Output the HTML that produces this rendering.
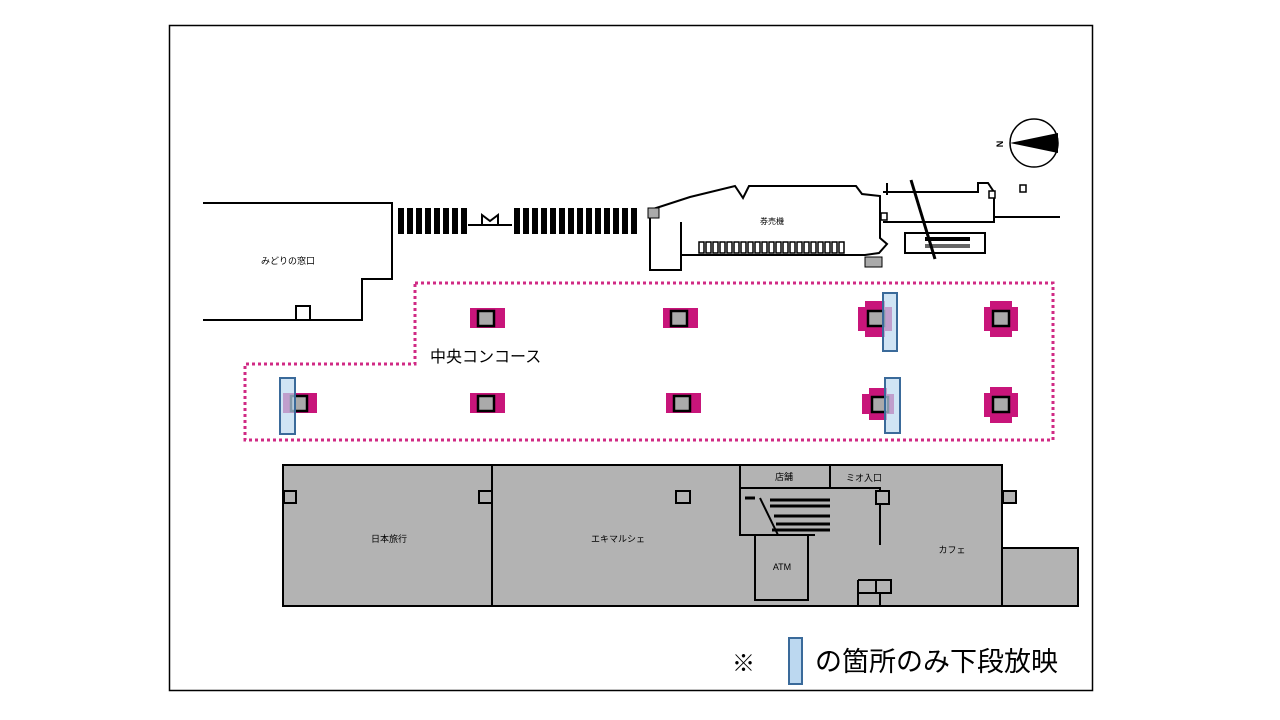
<!DOCTYPE html>
<html><head><meta charset="utf-8"><style>
html,body{margin:0;padding:0;background:#fff;}
svg{display:block;}
text{font-family:"Liberation Sans","Noto Sans CJK JP",sans-serif;}
</style></head><body>
<svg width="1280" height="720" viewBox="0 0 1280 720" xmlns="http://www.w3.org/2000/svg">
<rect x="169.5" y="25.5" width="923" height="665" fill="#fff" stroke="#000" stroke-width="1.5"/>
<!-- midori -->
<path d="M203,203 H392 V279 H362 V320 H203" fill="none" stroke="#000" stroke-width="2"/>
<rect x="296" y="306" width="14" height="14" fill="#fff" stroke="#000" stroke-width="2"/>
<text x="288" y="264" font-size="9" text-anchor="middle">みどりの窓口</text>
<!-- turnstiles -->
<g fill="#000">
<rect x="398" y="208" width="6" height="26"/><rect x="407" y="208" width="6" height="26"/><rect x="416" y="208" width="6" height="26"/><rect x="425" y="208" width="6" height="26"/><rect x="434" y="208" width="6" height="26"/><rect x="443" y="208" width="6" height="26"/><rect x="452" y="208" width="6" height="26"/><rect x="461" y="208" width="6" height="26"/>
<rect x="514" y="208" width="6" height="26"/><rect x="523" y="208" width="6" height="26"/><rect x="532" y="208" width="6" height="26"/><rect x="541" y="208" width="6" height="26"/><rect x="550" y="208" width="6" height="26"/><rect x="559" y="208" width="6" height="26"/><rect x="568" y="208" width="6" height="26"/><rect x="577" y="208" width="6" height="26"/><rect x="586" y="208" width="6" height="26"/><rect x="595" y="208" width="6" height="26"/><rect x="604" y="208" width="6" height="26"/><rect x="613" y="208" width="6" height="26"/><rect x="622" y="208" width="6" height="26"/><rect x="631" y="208" width="6" height="26"/>
</g>
<path d="M468,225 H512 M482,225 L482,215 L490,221 L498,215 L498,225" fill="none" stroke="#000" stroke-width="2"/>
<!-- ticket office -->
<path d="M650,210 L690,197 L735,186 L743,198 L749,186 L856,186 L862,194 L880,196 L880,238 L887,244 L879,253 L865,255 L681,255 L681,270 L650,270 Z" fill="none" stroke="#000" stroke-width="2"/>
<path d="M681,222 V255" stroke="#000" stroke-width="2"/>
<rect x="648" y="208" width="11" height="10" fill="#aaa" stroke="#000"/>
<rect x="865" y="257" width="17" height="10" fill="#aaa" stroke="#000"/>
<g fill="#fff" stroke="#000" stroke-width="1.5">
<rect x="699" y="242" width="5" height="11"/><rect x="706" y="242" width="5" height="11"/><rect x="713" y="242" width="5" height="11"/><rect x="720" y="242" width="5" height="11"/><rect x="727" y="242" width="5" height="11"/><rect x="734" y="242" width="5" height="11"/><rect x="741" y="242" width="5" height="11"/><rect x="748" y="242" width="5" height="11"/><rect x="755" y="242" width="5" height="11"/><rect x="762" y="242" width="5" height="11"/><rect x="769" y="242" width="5" height="11"/><rect x="776" y="242" width="5" height="11"/><rect x="783" y="242" width="5" height="11"/><rect x="790" y="242" width="5" height="11"/><rect x="797" y="242" width="5" height="11"/><rect x="804" y="242" width="5" height="11"/><rect x="811" y="242" width="5" height="11"/><rect x="818" y="242" width="5" height="11"/><rect x="825" y="242" width="5" height="11"/><rect x="832" y="242" width="5" height="11"/><rect x="839" y="242" width="5" height="11"/>
</g>
<text x="772" y="224" font-size="8" text-anchor="middle">券売機</text>
<!-- right top -->
<path d="M883,192 H978 V188 M978,192 V183 L988,183 L994,192 V222 H883 M887,183 V195 M995,217 H1060" fill="none" stroke="#000" stroke-width="2"/>
<rect x="881" y="213" width="6" height="7" fill="#fff" stroke="#000" stroke-width="1.5"/>
<rect x="989" y="191" width="6" height="7" fill="#fff" stroke="#000" stroke-width="1.5"/>
<rect x="1020" y="185" width="6" height="7" fill="#fff" stroke="#000" stroke-width="1.5"/>
<rect x="905" y="233" width="80" height="20" fill="#fff" stroke="#000" stroke-width="2"/>
<rect x="925" y="237" width="45" height="4" fill="#000"/><rect x="925" y="244" width="45" height="4" fill="#666"/>
<line x1="911" y1="180" x2="935" y2="259" stroke="#000" stroke-width="3"/>
<!-- compass -->
<circle cx="1034" cy="143" r="24" fill="#fff" stroke="#000" stroke-width="1.5"/>
<path d="M1010,143 L1058,133 L1058,153 Z" fill="#000"/>
<text x="1000" y="147" font-size="9" font-weight="bold" transform="rotate(-90 1000 144)" text-anchor="middle">N</text>
<!-- concourse dotted -->
<path d="M415,283 H1053 V440 H245 V364 H415 Z" fill="none" stroke="#d02a84" stroke-width="3" stroke-dasharray="3,3"/>
<text x="430" y="362" font-size="16">中央コンコース</text>
<!-- pillars -->
<g id="p1"><rect x="470" y="308" width="35" height="20" fill="#c8157a"/><rect x="478" y="311" width="16" height="15" fill="#aaa" stroke="#000" stroke-width="2.5"/></g>
<use href="#p1" x="193" y="0"/>
<use href="#p1" x="0" y="85"/>
<use href="#p1" x="196" y="85"/>
<g><rect x="283" y="393" width="34" height="20" fill="#c8157a"/><rect x="291" y="396" width="16" height="15" fill="#aaa" stroke="#000" stroke-width="2.5"/></g>
<!-- cross pillars -->
<g id="c1"><rect x="984" y="307" width="34" height="24" fill="#c8157a"/><rect x="990" y="301" width="22" height="36" fill="#c8157a"/><rect x="993" y="311" width="16" height="15" fill="#aaa" stroke="#000" stroke-width="2.5"/></g>
<use href="#c1" x="0" y="86"/>
<g><rect x="858" y="307" width="34" height="24" fill="#c8157a"/><rect x="865" y="301" width="20" height="36" fill="#c8157a"/><rect x="868" y="311" width="16" height="15" fill="#aaa" stroke="#000" stroke-width="2.5"/></g>
<g><rect x="862" y="394" width="32" height="20" fill="#c8157a"/><rect x="869" y="388" width="18" height="32" fill="#c8157a"/><rect x="872" y="397" width="16" height="15" fill="#aaa" stroke="#000" stroke-width="2.5"/></g>
<!-- blue markers -->
<rect x="883" y="293" width="14" height="58" fill="#bcd8f0" fill-opacity="0.7" stroke="#3a6a9a" stroke-width="2"/>
<rect x="280" y="378" width="15" height="56" fill="#bcd8f0" fill-opacity="0.7" stroke="#3a6a9a" stroke-width="2"/>
<rect x="885" y="378" width="15" height="55" fill="#bcd8f0" fill-opacity="0.7" stroke="#3a6a9a" stroke-width="2"/>
<!-- bottom buildings -->
<rect x="283" y="465" width="719" height="141" fill="#b3b3b3" stroke="#000" stroke-width="2"/>
<rect x="1002" y="548" width="76" height="58" fill="#b3b3b3" stroke="#000" stroke-width="2"/>
<path d="M492,465 V606 M740,465 V500 M830,465 V488 M740,488 H880 V545 M740,500 V535 H815 M755,535 V600 H808 V535" fill="none" stroke="#000" stroke-width="2"/>
<path d="M745,498 H755 M770,500 H830 M770,506 H830 M774,516 H830 M776,524 H830 M772,530 H830" stroke="#000" stroke-width="3"/>
<path d="M760,498 L778,535" stroke="#000" stroke-width="2"/>
<path d="M858,580 H890 M858,593 H880 M858,580 V606 M880,580 V606" fill="none" stroke="#000" stroke-width="2"/>
<rect x="876" y="580" width="15" height="13" fill="#b3b3b3" stroke="#000" stroke-width="2"/>
<g fill="#b3b3b3" stroke="#000" stroke-width="2">
<rect x="284" y="491" width="12" height="12"/><rect x="479" y="491" width="13" height="12"/><rect x="676" y="491" width="14" height="12"/><rect x="876" y="491" width="13" height="13"/><rect x="1003" y="491" width="13" height="12"/>
</g>
<text x="389" y="542" font-size="9" text-anchor="middle">日本旅行</text>
<text x="618" y="542" font-size="9" text-anchor="middle">エキマルシェ</text>
<text x="784" y="480" font-size="9" text-anchor="middle">店舗</text>
<text x="864" y="481" font-size="9" text-anchor="middle">ミオ入口</text>
<text x="952" y="553" font-size="9" text-anchor="middle">カフェ</text>
<text x="782" y="570" font-size="9" text-anchor="middle">ATM</text>
<!-- legend -->
<text x="732" y="671" font-size="23">※</text>
<rect x="789" y="638" width="13" height="46" fill="#bcd8f0" stroke="#3a6a9a" stroke-width="2"/>
<text x="815" y="671" font-size="27">の箇所のみ下段放映</text>
</svg>
</body></html>
